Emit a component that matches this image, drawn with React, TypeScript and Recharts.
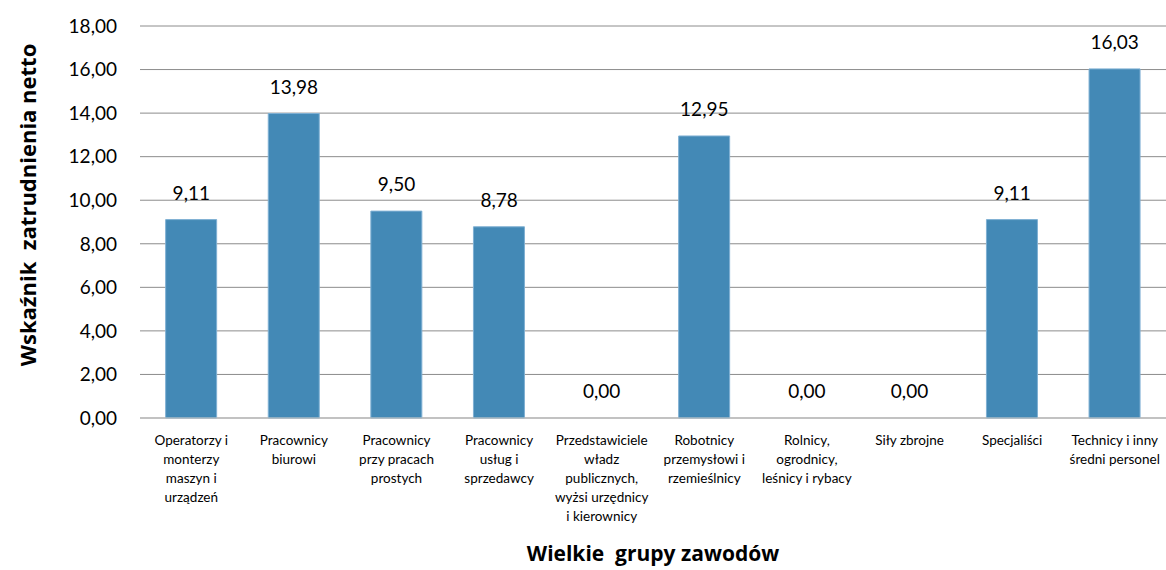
import React from 'react';
import { ComposedChart, Bar, Line, XAxis, YAxis, CartesianGrid, LabelList, Label } from 'recharts';

const categories = [
  'Operatorzy i monterzy maszyn i urządzeń',
  'Pracownicy biurowi',
  'Pracownicy przy pracach prostych',
  'Pracownicy usług i sprzedawcy',
  'Przedstawiciele władz publicznych, wyżsi urzędnicy i kierownicy',
  'Robotnicy przemysłowi i rzemieślnicy',
  'Rolnicy, ogrodnicy, leśnicy i rybacy',
  'Siły zbrojne',
  'Specjaliści',
  'Technicy i inny średni personel',
];

const categoryLines = [
  ['Operatorzy i', 'monterzy', 'maszyn i', 'urządzeń'],
  ['Pracownicy', 'biurowi'],
  ['Pracownicy', 'przy pracach', 'prostych'],
  ['Pracownicy', 'usług i', 'sprzedawcy'],
  ['Przedstawiciele', 'władz', 'publicznych,', 'wyżsi urzędnicy', 'i kierownicy'],
  ['Robotnicy', 'przemysłowi i', 'rzemieślnicy'],
  ['Rolnicy,', 'ogrodnicy,', 'leśnicy i rybacy'],
  ['Siły zbrojne'],
  ['Specjaliści'],
  ['Technicy i inny', 'średni personel'],
];

const values = [9.11, 13.98, 9.5, 8.78, 0, 12.95, 0, 0, 9.11, 16.03];

const yTicks = [0, 2, 4, 6, 8, 10, 12, 14, 16, 18];

const yTitle = 'Wskaźnik  zatrudnienia netto';
const xTitle = 'Wielkie  grupy zawodów';

const data = categories.map((c, i) => ({ name: c, value: values[i] }));

const FONT = 'Lato, "Open Sans", sans-serif';
const TITLE_FONT = '"Open Sans", Lato, sans-serif';

const fmt = (v: number) => Number(v).toFixed(2).replace('.', ',');

const CategoryTick = (props: any) => {
  const { x, y, payload } = props;
  const lines = categoryLines[payload.index] || [String(payload.value)];
  return (
    <g transform={`translate(${x},${y})`}>
      <text textAnchor="middle" fontSize={13.5} fill="#000" fontFamily={FONT}>
        {lines.map((l, i) => (
          <tspan key={i} x={0} y={27 + i * 19}>
            {l}
          </tspan>
        ))}
      </text>
    </g>
  );
};

export default function App() {
  return (
    <div style={{ position: 'absolute', left: 0, top: 0, width: 1166, height: 570, background: '#fff' }}>
      <ComposedChart
        width={1166}
        height={570}
        data={data}
        margin={{ top: 26, right: 0, left: 0, bottom: 0 }}
        barCategoryGap="25%"
      >
        <CartesianGrid vertical={false} stroke="#8c8c8c" strokeWidth={1} />
        <XAxis
          dataKey="name"
          height={152}
          interval={0}
          tickLine={false}
          tickSize={0}
          tickMargin={0}
          axisLine={{ stroke: '#bfbfbf' }}
          tick={<CategoryTick />}
        >
          <Label
            content={() => (
              <text
                x={653}
                y={561}
                textAnchor="middle"
                fontSize={21}
                fontWeight="bold"
                fontFamily={TITLE_FONT}
                fill="#000"
                style={{ whiteSpace: 'pre' }}
              >
                {xTitle}
              </text>
            )}
          />
        </XAxis>
        <YAxis
          width={140}
          domain={[0, 18]}
          ticks={yTicks}
          tickFormatter={fmt}
          axisLine={false}
          tickLine={false}
          tickSize={6}
          tickMargin={17}
          tick={{ fontSize: 19, fill: '#000', fontFamily: FONT }}
        >
          <Label
            content={() => (
              <text
                x={0}
                y={0}
                transform="translate(36,205) rotate(-90)"
                textAnchor="middle"
                fontSize={22}
                fontWeight="bold"
                fontFamily={TITLE_FONT}
                fill="#000"
                style={{ whiteSpace: 'pre' }}
              >
                {yTitle}
              </text>
            )}
          />
        </YAxis>
        <Bar dataKey="value" fill="#4389b6" stroke="#7fb0d3" strokeWidth={1} isAnimationActive={false} />
        <Line
          dataKey="value"
          stroke="none"
          dot={false}
          activeDot={false}
          legendType="none"
          isAnimationActive={false}
        >
          <LabelList
            dataKey="value"
            position="top"
            offset={20}
            formatter={(v: any) => fmt(v)}
            style={{ fontSize: 19, fill: '#000', fontFamily: FONT }}
          />
        </Line>
      </ComposedChart>
    </div>
  );
}
